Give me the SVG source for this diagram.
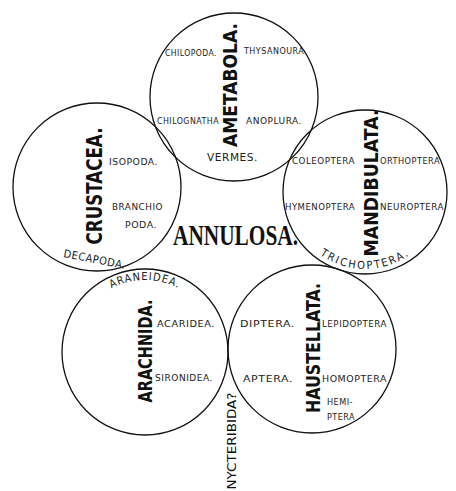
<svg xmlns="http://www.w3.org/2000/svg" width="456" height="491" viewBox="0 0 456 491">
<style>
.c{fill:none;stroke:#111;stroke-width:1.3}
.s{font-family:"DejaVu Sans Condensed","DejaVu Sans",sans-serif;font-size:9.5px;fill:#222;letter-spacing:0.5px}
.t{font-family:"DejaVu Sans Condensed","DejaVu Sans",sans-serif;font-weight:bold;fill:#111;text-anchor:middle}
.m{font-family:"Liberation Serif",serif;font-weight:bold;font-size:30px;fill:#111}
</style>
<defs>
<path id="arcAr" d="M 73 352 A 72 72 0 0 1 217 352"/>
<path id="arcTr" d="M 288 192 A 77 77 0 0 0 442 192"/>
</defs>
<rect width="456" height="491" fill="#fff"/>
<g id="connectors"/>
<g id="ametabola">
<circle class="c" cx="234" cy="97" r="84"/>
<text class="t" font-size="19" transform="translate(237,85) rotate(-90)" textLength="124" lengthAdjust="spacingAndGlyphs">AMETABOLA.</text>
<text class="s" x="165" y="55.5" textLength="52" lengthAdjust="spacingAndGlyphs">CHILOPODA.</text>
<text class="s" x="244" y="54" textLength="63" lengthAdjust="spacingAndGlyphs">THYSANOURA.</text>
<text class="s" x="157" y="123.5" textLength="62" lengthAdjust="spacingAndGlyphs">CHILOGNATHA</text>
<text class="s" x="246" y="123.5" textLength="56" lengthAdjust="spacingAndGlyphs">ANOPLURA.</text>
<text class="s" x="207" y="161" style="font-size:10.5px" textLength="51" lengthAdjust="spacingAndGlyphs">VERMES.</text>
</g>
<g id="crustacea">
<circle class="c" cx="97" cy="187" r="84"/>
<text class="t" font-size="21" transform="translate(102,186) rotate(-90)" textLength="117" lengthAdjust="spacingAndGlyphs">CRUSTACEA.</text>
<text class="s" x="109" y="165" textLength="49" lengthAdjust="spacingAndGlyphs">ISOPODA.</text>
<text class="s" x="112" y="210" textLength="51" lengthAdjust="spacingAndGlyphs">BRANCHIO</text>
<text class="s" x="125" y="228" textLength="32" lengthAdjust="spacingAndGlyphs">PODA.</text>
<text class="s" style="font-size:11px;text-anchor:middle" transform="translate(94,263) rotate(11)" textLength="63" lengthAdjust="spacingAndGlyphs">DECAPODA.</text>
</g>
<g id="mandibulata">
<circle class="c" cx="365" cy="192" r="82"/>
<text class="t" font-size="20" transform="translate(378,183) rotate(-90)" textLength="147" lengthAdjust="spacingAndGlyphs">MANDIBULATA.</text>
<text class="s" x="292" y="163.5" textLength="63" lengthAdjust="spacingAndGlyphs">COLEOPTERA</text>
<text class="s" x="380" y="163.5" textLength="60" lengthAdjust="spacingAndGlyphs">ORTHOPTERA</text>
<text class="s" x="285" y="209.5" textLength="70" lengthAdjust="spacingAndGlyphs">HYMENOPTERA</text>
<text class="s" x="380" y="209.5" textLength="64" lengthAdjust="spacingAndGlyphs">NEUROPTERA</text>
<text class="s" style="font-size:11px;letter-spacing:2px;text-anchor:middle"><textPath href="#arcTr" startOffset="50%">TRICHOPTERA.</textPath></text>
</g>
<g id="annulosa">
<text class="m" x="173" y="245" textLength="125" lengthAdjust="spacingAndGlyphs">ANNULOSA.</text>
</g>
<g id="arachnida">
<circle class="c" cx="145" cy="352" r="83"/>
<text class="t" font-size="19" transform="translate(152,351) rotate(-90)" textLength="103" lengthAdjust="spacingAndGlyphs">ARACHNIDA.</text>
<text class="s" x="157" y="326.5" textLength="58" lengthAdjust="spacingAndGlyphs">ACARIDEA.</text>
<text class="s" x="155" y="380.5" textLength="58" lengthAdjust="spacingAndGlyphs">SIRONIDEA.</text>
<text class="s" style="font-size:11px;letter-spacing:1px;text-anchor:middle"><textPath href="#arcAr" startOffset="50%">ARANEIDEA.</textPath></text>
</g>
<g id="haustellata">
<circle class="c" cx="312" cy="349" r="84"/>
<text class="t" font-size="20" transform="translate(320,348) rotate(-90)" textLength="130" lengthAdjust="spacingAndGlyphs">HAUSTELLATA.</text>
<text class="s" x="240" y="326.5" textLength="55" lengthAdjust="spacingAndGlyphs">DIPTERA.</text>
<text class="s" x="322" y="326.5" textLength="65" lengthAdjust="spacingAndGlyphs">LEPIDOPTERA</text>
<text class="s" x="243" y="381.5" textLength="50" lengthAdjust="spacingAndGlyphs">APTERA.</text>
<text class="s" x="322" y="381.5" textLength="65" lengthAdjust="spacingAndGlyphs">HOMOPTERA</text>
<text class="s" x="327" y="405" textLength="26" lengthAdjust="spacingAndGlyphs">HEMI-</text>
<text class="s" x="327" y="420" textLength="28" lengthAdjust="spacingAndGlyphs">PTERA</text>
</g>
<g id="nycteribida">
<text class="t" style="font-weight:normal" font-size="13" transform="translate(236,441) rotate(-90)" textLength="97" lengthAdjust="spacingAndGlyphs">NYCTERIBIDA?</text>
</g>
</svg>
